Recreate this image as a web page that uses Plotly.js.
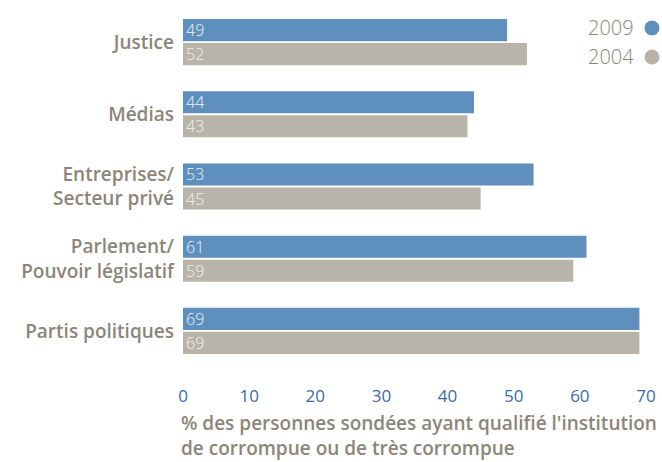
<!DOCTYPE html>
<html>
<head>
<meta charset="utf-8">
<script src="https://cdn.plot.ly/plotly-3.0.1.min.js"></script>
<style>html,body{margin:0;padding:0;background:#fff;}#chart{width:662px;height:462px;}</style>
</head>
<body>
<div id="chart"></div>
<script>
const categories = ["Justice", "Médias", "Entreprises/<br>Secteur privé", "Parlement/<br>Pouvoir législatif", "Partis politiques"];
const values2009 = [49, 44, 53, 61, 69];
const values2004 = [52, 43, 45, 59, 69];
const seriesNames = ["2009", "2004"];
const tickValues = [0, 10, 20, 30, 40, 50, 60, 70];
const axisTitle = "% des personnes sondées ayant qualifié l'institution<br>de corrompue ou de très corrompue";

const BLUE = "#5f8fbd";
const GREY = "#b8b4a9";
const TXT = "#8c8579";
const FONT = "Open Sans, sans-serif";

function barTrace(name, vals, color, txtColor) {
  return {
    type: "bar", orientation: "h", name: name,
    y: categories, x: vals,
    marker: {color: color, line: {width: 0}},
    text: vals.map(String), textposition: "inside", insidetextanchor: "start",
    textangle: 0, constraintext: "none",
    textfont: {family: FONT, size: 16, color: txtColor, weight: 300},
    hoverinfo: "skip", showlegend: false
  };
}

const data = [
  barTrace(seriesNames[0], values2009, BLUE, "#eef2f8"),
  barTrace(seriesNames[1], values2004, GREY, "#f4f2ee")
];

const W = 662, H = 462, L = 183, R = 16, T = 6, B = 95;
const pw = W - L - R, ph = H - T - B;
const px = x => (x - L) / pw;
const py = y => 1 - (y - T) / ph;

const layout = {
  width: W, height: H,
  margin: {l: L, r: R, t: T, b: B},
  paper_bgcolor: "#fff", plot_bgcolor: "#fff",
  barmode: "group", bargap: 0.335, bargroupgap: 0.08,
  font: {family: FONT},
  xaxis: {
    range: [0, 70], tickvals: tickValues, showgrid: false, zeroline: false,
    showline: false, ticks: "outside", ticklen: 14, tickcolor: "rgba(0,0,0,0)",
    tickfont: {family: FONT, size: 17, color: "#3a6aa5", weight: 400},
    fixedrange: true
  },
  yaxis: {
    autorange: "reversed", showgrid: false, zeroline: false, showline: false,
    ticks: "", ticklabelstandoff: 8,
    tickfont: {family: FONT, size: 19, color: TXT, weight: 600},
    fixedrange: true
  },
  annotations: [
    {xref: "paper", yref: "paper", x: px(179), y: py(408), xanchor: "left", yanchor: "top",
     align: "left", showarrow: false, text: axisTitle,
     font: {family: FONT, size: 19, color: TXT, weight: 600}},
    {xref: "paper", yref: "paper", x: px(636), y: py(28), xanchor: "right", yanchor: "middle",
     showarrow: false, text: seriesNames[0], font: {family: FONT, size: 20, color: TXT, weight: 300}},
    {xref: "paper", yref: "paper", x: px(636), y: py(56), xanchor: "right", yanchor: "middle",
     showarrow: false, text: seriesNames[1], font: {family: FONT, size: 20, color: TXT, weight: 300}}
  ],
  shapes: [
    {type: "circle", xref: "paper", yref: "paper", xsizemode: "pixel", ysizemode: "pixel",
     xanchor: px(652), yanchor: py(28), x0: -7.5, x1: 7.5, y0: -7.5, y1: 7.5,
     fillcolor: BLUE, line: {width: 0}},
    {type: "circle", xref: "paper", yref: "paper", xsizemode: "pixel", ysizemode: "pixel",
     xanchor: px(652), yanchor: py(57), x0: -7.5, x1: 7.5, y0: -7.5, y1: 7.5,
     fillcolor: GREY, line: {width: 0}}
  ]
};

Plotly.newPlot("chart", data, layout, {displayModeBar: false, staticPlot: true});
</script>
</body>
</html>
